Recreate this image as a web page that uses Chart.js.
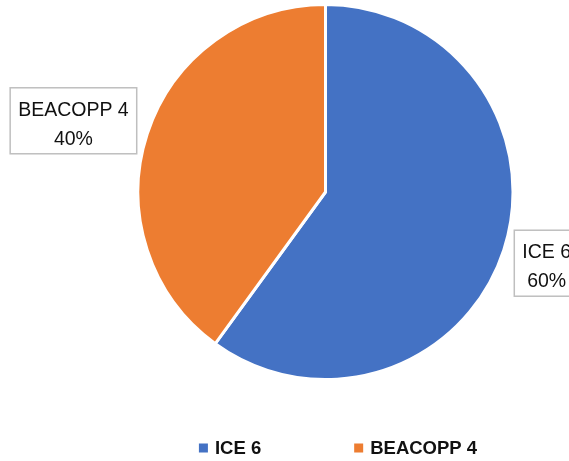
<!DOCTYPE html>
<html>
<head>
<meta charset="utf-8">
<script src="https://cdn.jsdelivr.net/npm/chart.js@4/dist/chart.umd.min.js"></script>
<style>
  html,body{margin:0;padding:0;background:#fff;}
  #wrap{width:569px;height:461px;}
</style>
</head>
<body>
<div id="wrap"><canvas id="pie" width="569" height="461"></canvas></div>
<script>
// regimen share
const regimens = ['ICE 6', 'BEACOPP 4'];
const shares = [60, 40];
const sliceColors = ['#4472C4', '#ED7D31'];

// boxed "name / percent" labels outside each slice
const boxLabels = {
  id: 'boxLabels',
  afterDatasetsDraw(chart){
    const ctx = chart.ctx;
    const arcs = chart.getDatasetMeta(0).data;
    const total = shares.reduce((a,b)=>a+b,0);
    ctx.save();
    ctx.font = '19.5px "Liberation Sans", Arial, sans-serif';
    arcs.forEach((arc, i)=>{
      const a = (arc.startAngle + arc.endAngle)/2;
      const r = arc.outerRadius + 11;
      const px = arc.x + Math.cos(a)*r;
      const py = arc.y + Math.sin(a)*r + Math.sin(a)*32;
      const lines = [regimens[i], Math.round(shares[i]/total*100) + '%'];
      const w = Math.max(...lines.map(t=>ctx.measureText(t).width)) + 16;
      const h = 66;
      const left = Math.cos(a) < 0 ? px - w : px;
      const top = py - h/2;
      ctx.fillStyle = '#fff';
      ctx.fillRect(left, top, w, h);
      ctx.strokeStyle = '#BFBFBF';
      ctx.lineWidth = 1.5;
      ctx.strokeRect(left, top, w, h);
      ctx.fillStyle = '#111';
      ctx.textAlign = 'center';
      ctx.textBaseline = 'alphabetic';
      ctx.fillText(lines[0], left + w/2, top + 28);
      ctx.fillText(lines[1], left + w/2, top + 57);
    });
    ctx.restore();
  }
};

// bottom legend, Excel-style spacing
const bottomLegend = {
  id: 'bottomLegend',
  afterDraw(chart, args, opts){
    const ctx = chart.ctx;
    ctx.save();
    ctx.font = 'bold 18.5px "Liberation Sans", Arial, sans-serif';
    const box = 9, gap = 7, itemGap = 93;
    const widths = regimens.map(t=>box + gap + ctx.measureText(t).width);
    const total = widths.reduce((a,b)=>a+b,0) + itemGap*(widths.length-1);
    let x = opts.centerX - total/2;
    const y = opts.y;
    regimens.forEach((t, i)=>{
      ctx.fillStyle = sliceColors[i];
      ctx.fillRect(x, y - box/2, box, box);
      ctx.fillStyle = '#111';
      ctx.textAlign = 'left';
      ctx.textBaseline = 'middle';
      ctx.fillText(t, x + box + gap, y + 1);
      x += widths[i] + itemGap;
    });
    ctx.restore();
  }
};

new Chart(document.getElementById('pie'), {
  type: 'pie',
  data: {
    labels: regimens,
    datasets: [{
      data: shares,
      backgroundColor: sliceColors,
      borderColor: '#fff',
      borderWidth: 3
    }]
  },
  options: {
    responsive: false,
    animation: false,
    devicePixelRatio: 1,
    layout: { padding: { left: 136, top: 3, right: 54, bottom: 80 } },
    plugins: {
      legend: { display: false },
      tooltip: { enabled: false },
      bottomLegend: { centerX: 338, y: 448 }
    }
  },
  plugins: [boxLabels, bottomLegend]
});
</script>
</body>
</html>
